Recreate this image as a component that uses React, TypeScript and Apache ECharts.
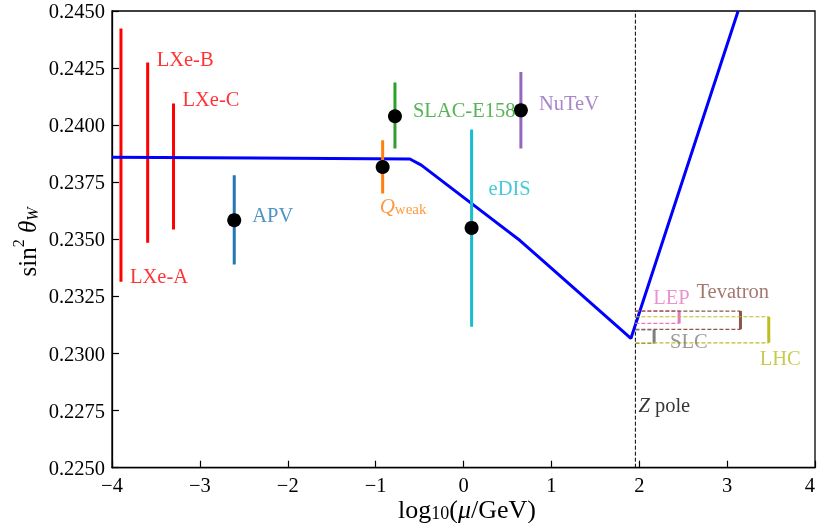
import React, { useEffect, useRef } from 'react';
import * as echarts from 'echarts';

const FONT = '"Liberation Serif", "DejaVu Serif", serif';

// running of sin^2 theta_W (log10 mu, value)
const runX = [-4, -0.61, -0.48, 0.64, 1.905, 3.125];
const runY = [0.2386, 0.23852, 0.23825, 0.23496, 0.23066, 0.245];

// low-energy measurements with central values
const expNames = ['APV', 'Qweak', 'SLAC-E158', 'eDIS', 'NuTeV'];
const expX = [-2.609, -0.92, -0.78, 0.092, 0.653];
const expY = [0.23584, 0.23817, 0.24039, 0.2355, 0.24065];
const expLo = [0.2339, 0.23701, 0.23898, 0.23117, 0.23898];
const expHi = [0.23781, 0.23934, 0.24187, 0.23981, 0.24233];

// LXe projections (ranges only)
const lxeNames = ['LXe-A', 'LXe-B', 'LXe-C'];
const lxeX = [-3.898, -3.594, -3.3];
const lxeLo = [0.23314, 0.23485, 0.23543];
const lxeHi = [0.24423, 0.24274, 0.24095];

// Z-pole measurements
const zPoleX = 1.956;
const zNames = ['LEP', 'Tevatron', 'SLC', 'LHC'];
const zBarX = [2.454, 3.152, 2.169, 3.474];
const zLo = [0.23132, 0.23106, 0.23044, 0.23047];
const zHi = [0.23187, 0.23186, 0.23103, 0.23161];

// axis ticks
const xMin = -4, xMax = 4, xStep = 1;
const yMin = 0.225, yMax = 0.245, yStep = 0.0025;

const expColors = ['#1f77b4', '#ff7f0e', '#2ca02c', '#17becf', '#9467bd'];
const expLabelOffsets: [number, number][] = [[18, -5], [-3, 38], [18, -6], [17, -40], [18, -7]];
const lxeColor = '#ff0000';
const lxeLabelOffsets: [number, number][] = [[9, -6], [9, -4], [9, -4]];
const zColors = ['#e377c2', '#8c564b', '#7f7f7f', '#bcbd22'];
const LFS = 20.5;

export default function App() {
  const ref = useRef<HTMLDivElement>(null);
  useEffect(() => {
    const chart = echarts.init(ref.current!, null, { renderer: 'svg' });
    const series: any[] = [];
    const seg = (pts: number[][], color: string, width: number, type: any, z: number) => ({
      type: 'line', data: pts, symbol: 'none', silent: true, clip: true, z,
      lineStyle: { color, width, type, cap: 'butt', opacity: 1 },
    });
    const lab = (x: number, y: number, text: string, color: string, dx: number, dy: number, rich?: any) => ({
      type: 'scatter', data: [[x, y]], symbolSize: 1, silent: true, z: 20,
      itemStyle: { color: 'transparent' },
      label: {
        show: true, position: 'inside', align: 'left', verticalAlign: 'middle',
        offset: [dx, dy], formatter: text, color, fontFamily: FONT, fontSize: LFS, rich,
      },
    });

    // LXe bars
    lxeNames.forEach((n, i) => {
      series.push(seg([[lxeX[i], lxeLo[i]], [lxeX[i], lxeHi[i]]], lxeColor, 3, 'solid', 2));
      const anchorY = i === 0 ? lxeLo[i] : lxeHi[i];
      series.push(lab(lxeX[i], anchorY, n, lxeColor, lxeLabelOffsets[i][0], lxeLabelOffsets[i][1]));
    });

    // running curve
    series.push(seg(runX.map((x, i) => [x, runY[i]]), '#0000ff', 3, 'solid', 3));

    // experiments
    expNames.forEach((n, i) => {
      series.push(seg([[expX[i], expLo[i]], [expX[i], expHi[i]]], expColors[i], 3, 'solid', 4));
      const text = n === 'Qweak' ? '{i|Q}{s|weak}' : n;
      const rich = n === 'Qweak' ? {
        i: { fontFamily: FONT, fontSize: 21, fontStyle: 'italic', color: expColors[i], verticalAlign: 'bottom', lineHeight: 24 },
        s: { fontFamily: FONT, fontSize: 15, color: expColors[i], verticalAlign: 'bottom', lineHeight: 20 },
      } : undefined;
      series.push(lab(expX[i], expY[i], text, expColors[i], expLabelOffsets[i][0], expLabelOffsets[i][1], rich));
    });
    series.push({
      type: 'scatter', data: expX.map((x, i) => [x, expY[i]]), symbol: 'circle', symbolSize: 14,
      itemStyle: { color: '#000', opacity: 1 }, z: 6, silent: true,
    });

    // Z pole dashed line
    series.push(seg([[zPoleX, yMin], [zPoleX, yMax]], '#000', 1, [4, 2], 1));
    series.push(lab(zPoleX, yMin, '{i|Z}{n| pole}', '#000', 3, -63, {
      i: { fontFamily: FONT, fontSize: LFS, fontStyle: 'italic', color: '#000' },
      n: { fontFamily: FONT, fontSize: LFS, color: '#000' },
    }));

    // Z-pole measurements
    const zLabelOffsets: [number, number, 'hi' | 'lo'][] = [[-26, -14, 'hi'], [-44, -20, 'hi'], [16, -2, 'lo'], [-9, 15, 'lo']];
    zNames.forEach((n, i) => {
      series.push(seg([[zPoleX, zHi[i]], [zBarX[i], zHi[i]]], zColors[i], 1.2, [4, 2], 5));
      series.push(seg([[zPoleX, zLo[i]], [zBarX[i], zLo[i]]], zColors[i], 1.2, [4, 2], 5));
      series.push(seg([[zBarX[i], zLo[i]], [zBarX[i], zHi[i]]], zColors[i], 3, 'solid', 5));
      const o = zLabelOffsets[i];
      series.push(lab(zBarX[i], o[2] === 'hi' ? zHi[i] : zLo[i], n, zColors[i], o[0], o[1]));
    });

    const minus = (v: number) => (v < 0 ? '\u2212' + Math.abs(v) : String(v));

    chart.setOption({
      animation: false,
      grid: {
        left: 112, right: 2, top: 11, bottom: 55.3, show: true, borderColor: '#000', borderWidth: 1.3,
        backgroundColor: '#fff', containLabel: false, outerBoundsMode: 'none',
      },
      xAxis: {
        type: 'value', min: xMin, max: xMax, interval: xStep,
        axisLine: { show: true, onZero: false, lineStyle: { color: '#000', width: 1.3 } },
        axisTick: { show: true, inside: true, length: 7, lineStyle: { color: '#000', width: 1.2 } },
        splitLine: { show: false },
        axisLabel: { formatter: minus, color: '#000', fontFamily: FONT, fontSize: LFS, margin: 7, lineHeight: 20, alignMaxLabel: 'right' },
      },
      yAxis: {
        type: 'value', min: yMin, max: yMax, interval: yStep,
        axisLine: { show: true, onZero: false, lineStyle: { color: '#000', width: 1.3 } },
        axisTick: { show: true, inside: true, length: 7, lineStyle: { color: '#000', width: 1.2 } },
        splitLine: { show: false },
        axisLabel: { formatter: (v: number) => v.toFixed(4), color: '#000', fontFamily: FONT, fontSize: LFS, margin: 7 },
      },
      graphic: [
        {
          type: 'text', x: 467, y: 510, silent: true,
          style: {
            text: '{n|log}{sub|10}{n|(}{i|\u03bc}{n|/GeV)}',
            align: 'center', verticalAlign: 'middle', fill: '#000',
            rich: {
              n: { fontFamily: FONT, fontSize: 26, fill: '#000', verticalAlign: 'bottom', lineHeight: 24 },
              i: { fontFamily: FONT, fontSize: 26, fontStyle: 'italic', fill: '#000', verticalAlign: 'bottom', lineHeight: 24 },
              sub: { fontFamily: FONT, fontSize: 18, fill: '#000', verticalAlign: 'bottom', lineHeight: 18 },
            },
          },
        },
        {
          type: 'text', x: 25, y: 242, rotation: Math.PI / 2, silent: true,
          style: {
            text: '{n|sin}{sup|2}{n| }{i|\u03b8}{sub|W}',
            align: 'center', verticalAlign: 'middle', fill: '#000',
            rich: {
              n: { fontFamily: FONT, fontSize: 25, fill: '#000', verticalAlign: 'bottom', lineHeight: 30 },
              i: { fontFamily: FONT, fontSize: 25, fontStyle: 'italic', fill: '#000', verticalAlign: 'bottom', lineHeight: 30 },
              sup: { fontFamily: FONT, fontSize: 16, fill: '#000', verticalAlign: 'top', lineHeight: 18 },
              sub: { fontFamily: FONT, fontSize: 16, fontStyle: 'italic', fill: '#000', verticalAlign: 'bottom', lineHeight: 18 },
            },
          },
        },
      ],
      series,
    });
    return () => chart.dispose();
  }, []);
  return <div ref={ref} style={{ position: 'fixed', left: 0, top: 0, width: 817, height: 523 }} />;
}
